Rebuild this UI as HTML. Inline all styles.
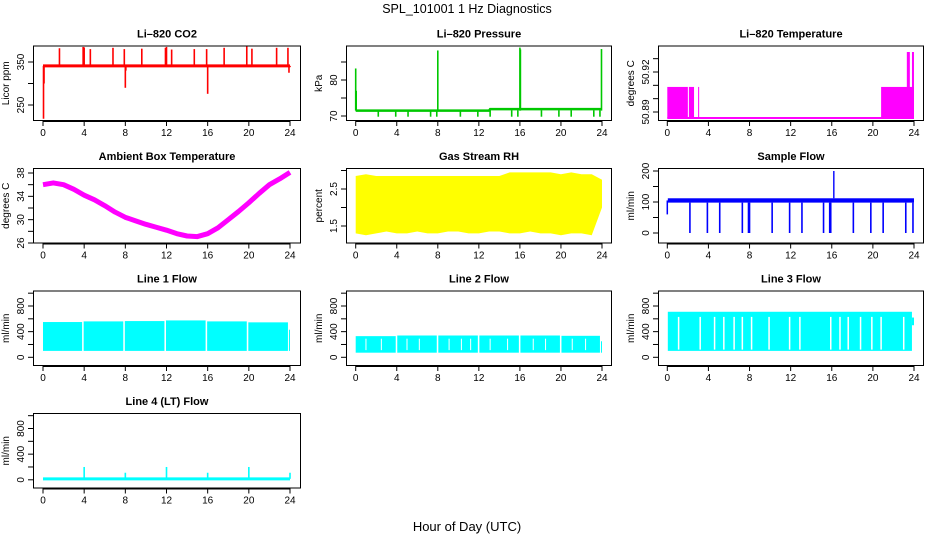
<!DOCTYPE html>
<html><head><meta charset="utf-8"><title>SPL_101001 1 Hz Diagnostics</title>
<style>
html,body{margin:0;padding:0;background:#fff;}
svg{display:block;font-family:"Liberation Sans",Arial,sans-serif;}
.t{font-size:11px;font-weight:bold;text-anchor:middle;}
.tk{font-size:10px;text-anchor:middle;}
.at{font-size:10px;text-anchor:middle;}
</style></head>
<body>
<svg id="chart" width="936" height="540" viewBox="0 0 936 540">
<text x="467" y="13" style="font-size:12.5px;text-anchor:middle">SPL_101001  1 Hz Diagnostics</text>
<text x="467" y="531" style="font-size:13px;text-anchor:middle">Hour of Day (UTC)</text>
</svg>
<script>
// ---------- data ----------
const xTicks = [0,4,8,12,16,20,24];
// CO2
const co2Base = 341;
const co2SpikeHours = [0.05,0.1,1.6,3.9,4.0,4.6,6.8,7.9,8.0,8.05,9.6,11.9,12.0,12.5,14.7,15.9,16.0,17.6,19.8,20.3,22.7,23.8,23.9,24.0];
const co2SpikeVals  = [218,300,382,385,384,380,383,380,290,330,381,383,385,379,380,380,276,383,386,381,383,383,325,338];
const co2Ticks = [250,300,350];
const co2Labels = ["250","","350"];
// Pressure
const presBaseHours = [0,13,13.1,24];
const presBaseVals  = [71.5,71.5,71.9,71.9];
const presSpikeHours = [0,0.05,8,16,16.05,23.95];
const presSpikeVals  = [83.2,77,88.2,89,88.5,88.6];
const presDipHours = [2.2,3.9,5.1,7.3,7.9,10.2,11.9,13.1,15.2,15.8,18.1,19.8,21,23.2,23.8];
const presDipVal = 69.8;
const presTicks = [70,75,80,85];
const presLabels = ["70","","80",""];
// Li-820 temperature
const ltBase = 50.8855;
const ltBandStart = [0,2.1,3.0,20.8];
const ltBandEnd   = [2.0,2.6,3.05,24];
const ltBandTop = 50.9088;
const ltSpikeHours = [23.4,23.5,23.9];
const ltSpikeVal = 50.935;
const ltTicks = [50.89,50.90,50.91,50.92,50.93];
const ltLabels = ["50.89","","","50.92",""];
// Ambient box temperature (hourly)
const ambHours = [0,1,2,3,4,5,6,7,8,9,10,11,12,13,14,15,16,17,18,19,20,21,22,23,24];
const ambVals  = [36,36.3,36,35.2,34.2,33.4,32.4,31.3,30.4,29.8,29.2,28.7,28.2,27.6,27.2,27.1,27.6,28.6,30,31.4,32.9,34.5,36,37,38.1];
const ambTicks = [26,28,30,32,34,36,38];
const ambLabels = ["26","","30","","34","","38"];
// Gas stream RH
const rhHours = [0,1,2,3,4,5,6,7,8,9,10,11,12,13,14,15,16,17,18,19,20,21,22,23,24];
const rhHigh  = [2.85,2.9,2.85,2.85,2.85,2.85,2.85,2.85,2.85,2.85,2.85,2.85,2.85,2.85,2.85,2.95,2.95,2.95,2.95,2.95,2.9,2.95,2.9,2.9,2.75];
const rhLow   = [1.3,1.25,1.3,1.35,1.3,1.3,1.35,1.3,1.3,1.35,1.35,1.3,1.3,1.35,1.35,1.3,1.3,1.35,1.3,1.3,1.25,1.3,1.3,1.25,2.0];
const rhTicks = [1.5,2.0,2.5,3.0];
const rhLabels = ["1.5","","2.5",""];
// Sample flow
const sfLow = 98, sfHigh = 112;
const sfDropHours = [2.2,3.9,5.1,7.3,7.9,8.0,10.2,11.9,13.1,15.2,15.8,15.9,18.1,19.8,21.0,23.2,23.9];
const sfSpikeHour = 16.2, sfSpikeVal = 200;
const sfTicks = [0,50,100,150,200];
const sfLabels = ["0","","100","","200"];
// Line flows
const flowTicks = [0,200,400,600,800,1000];
const flowLabels = ["0","","400","","800",""];
const l1Start = [0,3.95,7.95,11.95,15.95,19.95,23.9];
const l1End   = [3.8,7.8,11.8,15.8,19.8,23.8,24];
const l1Top   = [550,560,565,575,560,545,430];
const l1Bottom = 100;
const l2Start = [0,4.05,8.05,12.05,16.05,20.05,23.9];
const l2End   = [3.9,7.9,11.9,15.9,19.9,23.8,24];
const l2Top   = [330,340,340,340,340,335,250];
const l2Bottom = 72;
const l2Gaps = [1.0,2.5,5.0,6.2,9.1,10.3,11.2,13.1,14.8,17.3,18.5,21.1,22.4];
const l3Top = 710, l3Bottom = 100, l3EndVal = 560;
const l3Gaps = [1.1,3.2,4.6,5.5,6.5,7.3,8.2,9.9,11.9,12.9,15.9,16.8,17.6,18.8,19.9,20.8,23.0];
const l4Base = 15;
const l4SpikeHours = [4,8,12,16,20,24];
const l4SpikeVals  = [200,110,200,110,200,110];

// ---------- drawing ----------
const NS = "http://www.w3.org/2000/svg";
const svg = document.getElementById("chart");
function mk(tag, attrs, parent){
  const e = document.createElementNS(NS, tag);
  for (const k in attrs) e.setAttribute(k, attrs[k]);
  (parent||svg).appendChild(e);
  return e;
}
const colBox = [33,346,658], colW = [268,266,266], colX0 = [43,355.7,667.3], colX24 = [290,602,914];

function makePanel(col,row,title,ytitle,v1,y1,v2,y2,ticks,labels,key){
  const g = mk("g",{});
  
  
  const bx = colBox[col], bw = colW[col], by = 45.5 + 122.5*row, bh = 75.5;
  const sx = h => colX0[col] + h*(colX24[col]-colX0[col])/24;
  const sy = v => y1 + (v - v1)*(y2 - y1)/(v2 - v1);
  const clipId = "clip-"+key;
  const cp = mk("clipPath",{id:clipId},g);
  mk("rect",{x:bx,y:by,width:bw,height:bh},cp);
  const marks = mk("g",{"clip-path":"url(#"+clipId+")"},g);
  
  
  // title
  const t = mk("text",{x:bx+bw/2,y:by-8,class:"t"},g);
  t.textContent = title;
  
  
  // box
  const b = mk("rect",{x:bx+0.5,y:by+0.5,width:bw-1,height:bh-1,fill:"none",stroke:"#000","stroke-width":1},g);
  
  
  // x axis
  const xa = mk("g",{},g);
  
  
  mk("line",{x1:sx(0),x2:sx(24),y1:by+bh+0.5,y2:by+bh+0.5,stroke:"#000"},xa);
  xTicks.forEach(h=>{
    mk("line",{x1:sx(h),x2:sx(h),y1:by+bh,y2:by+bh+5,stroke:"#000"},xa);
    const l = mk("text",{x:sx(h),y:by+bh+15,class:"tk"},xa);
    l.textContent = h;
    
    
  });
  // y axis
  const ya = mk("g",{},g);
  
  
  const ys = ticks.map(sy);
  mk("line",{x1:bx+0.5,x2:bx+0.5,y1:Math.min(...ys),y2:Math.max(...ys),stroke:"#000"},ya);
  ticks.forEach((v,i)=>{
    const yy = sy(v);
    mk("line",{x1:bx-5,x2:bx,y1:yy,y2:yy,stroke:"#000"},ya);
    if (labels[i]) {
      const l = mk("text",{x:bx-9,y:yy,class:"tk",transform:"rotate(-90 "+(bx-9)+" "+yy+")"},ya);
      l.textContent = labels[i];
      
      
    }
  });
  const ay = by+bh/2, ax = bx-24;
  const at = mk("text",{x:ax,y:ay,class:"at",transform:"rotate(-90 "+ax+" "+ay+")"},g);
  at.textContent = ytitle;
  
  
  return {sx,sy,g:marks};
}
function vline(p,h,va,vb,color,w){
  const e = mk("line",{x1:p.sx(h),x2:p.sx(h),y1:p.sy(va),y2:p.sy(vb),stroke:color,"stroke-width":w},p.g);
  return e;
}
function band(p,h0,h1,lo,hi,color){
  const a = p.sx(h0), b = p.sx(h1), ya = p.sy(hi), yb = p.sy(lo);
  return mk("rect",{x:a,y:Math.min(ya,yb),width:Math.max(1,b-a),height:Math.abs(yb-ya),fill:color},p.g);
}

// CO2
{
  const p = makePanel(0,0,"Li\u2013820 CO2","Licor ppm",250,105,350,62,co2Ticks,co2Labels,"co2");
  const bl = mk("line",{x1:p.sx(0),x2:p.sx(24),y1:p.sy(co2Base),y2:p.sy(co2Base),stroke:"#f00","stroke-width":3},p.g);
  
  
  co2SpikeHours.forEach((h,i)=>{
    const s = vline(p,h,co2Base,co2SpikeVals[i],"#f00",1.6);
    
    
  });
}
// Pressure
{
  const p = makePanel(1,0,"Li\u2013820 Pressure","kPa",70,116,80,80,presTicks,presLabels,"pressure");
  const pts = presBaseHours.map((h,i)=>p.sx(h)+","+p.sy(presBaseVals[i])).join(" ");
  const pl = mk("polyline",{points:pts,fill:"none",stroke:"#00c800","stroke-width":2.5},p.g);
  
  
  presSpikeHours.forEach((h,i)=>{
    const s = vline(p,h,71.5,presSpikeVals[i],"#00c800",1.6);
    
    
  });
  presDipHours.forEach(h=>{
    const s = vline(p,h,71.6,presDipVal,"#00c800",1.6);
    
    
  });
}
// Li-820 Temperature
{
  const p = makePanel(2,0,"Li\u2013820 Temperature","degrees C",50.89,112,50.92,72,ltTicks,ltLabels,"licor-temp");
  const bl = mk("line",{x1:p.sx(0),x2:p.sx(24),y1:p.sy(ltBase),y2:p.sy(ltBase),stroke:"#f0f","stroke-width":2},p.g);
  
  
  ltBandStart.forEach((h,i)=>{
    const r = band(p,h,ltBandEnd[i],ltBase,ltBandTop,"#f0f");
    
    
  });
  ltSpikeHours.forEach(h=>{
    const s = vline(p,h,ltBase,ltSpikeVal,"#f0f",2);
    
    
  });
}
// Ambient
{
  const p = makePanel(0,1,"Ambient Box Temperature","degrees C",26,243,38,173,ambTicks,ambLabels,"ambient-temp");
  const pts = ambHours.map((h,i)=>p.sx(h)+","+p.sy(ambVals[i])).join(" ");
  const pl = mk("polyline",{points:pts,fill:"none",stroke:"#f0f","stroke-width":5,"stroke-linejoin":"round"},p.g);
  
  
}
// RH
{
  const p = makePanel(1,1,"Gas Stream RH","percent",1.5,226,2.5,189,rhTicks,rhLabels,"rh");
  const top = rhHours.map((h,i)=>p.sx(h)+","+p.sy(rhHigh[i]));
  const bot = rhHours.map((h,i)=>p.sx(h)+","+p.sy(rhLow[i])).reverse();
  const pg = mk("polygon",{points:top.concat(bot).join(" "),fill:"#ff0"},p.g);
  
  
}
// Sample flow
{
  const p = makePanel(2,1,"Sample Flow","ml/min",0,233,200,171,sfTicks,sfLabels,"sample-flow");
  const r = band(p,0.05,24,sfLow,sfHigh,"#00f");
  
  
  const s0 = vline(p,0,60,105,"#00f",1.5);
  
  
  sfDropHours.forEach(h=>{
    const s = vline(p,h,sfLow,0,"#00f",1.6);
    
    
  });
  const sp = vline(p,sfSpikeHour,sfHigh,sfSpikeVal,"#00f",1.4);
  
  
}
// Line 1
{
  const p = makePanel(0,2,"Line 1 Flow","ml/min",0,357.3,800,306,flowTicks,flowLabels,"line1-flow");
  l1Start.forEach((h,i)=>{
    const r = band(p,h,l1End[i],l1Bottom,l1Top[i],"#0ff");
    
    
  });
}
// Line 2
{
  const p = makePanel(1,2,"Line 2 Flow","ml/min",0,357.3,800,306,flowTicks,flowLabels,"line2-flow");
  l2Start.forEach((h,i)=>{
    const r = band(p,h,l2End[i],l2Bottom,l2Top[i],"#0ff");
    
    
  });
  l2Gaps.forEach(h=>{
    const s = vline(p,h,l2Bottom+40,l2Top[0]-40,"#fff",1);
    
    
  });
}
// Line 3
{
  const p = makePanel(2,2,"Line 3 Flow","ml/min",0,357.3,800,306,flowTicks,flowLabels,"line3-flow");
  const r = band(p,0.05,23.8,l3Bottom,l3Top,"#0ff");
  
  
  const r2 = band(p,23.8,24,l3EndVal-60,l3EndVal+60,"#0ff");
  
  
  l3Gaps.forEach(h=>{
    const s = vline(p,h,l3Bottom+20,l3Top-80,"#fff",1.5);
    
    
  });
}
// Line 4
{
  const p = makePanel(0,3,"Line 4 (LT) Flow","ml/min",0,479.8,800,428.5,flowTicks,flowLabels,"line4-flow");
  const bl = mk("line",{x1:p.sx(0),x2:p.sx(24),y1:p.sy(l4Base),y2:p.sy(l4Base),stroke:"#0ff","stroke-width":3},p.g);
  
  
  l4SpikeHours.forEach((h,i)=>{
    const s = vline(p,h,l4Base,l4SpikeVals[i],"#0ff",1.6);
    
    
  });
}
</script>
</body></html>
